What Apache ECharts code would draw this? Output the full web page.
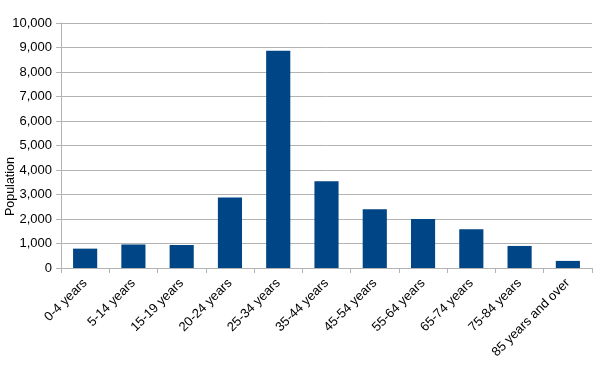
<!DOCTYPE html>
<html><head><meta charset="utf-8">
<script src="https://cdn.jsdelivr.net/npm/echarts@6/dist/echarts.min.js"></script>
<style>html,body{margin:0;padding:0;background:#fff}#c{width:604px;height:371px}</style>
</head><body><div id="c"></div>
<script>
const categories = ["0-4 years","5-14 years","15-19 years","20-24 years","25-34 years","35-44 years","45-54 years","55-64 years","65-74 years","75-84 years","85 years and over"];
const population = [790, 960, 940, 2880, 8870, 3540, 2400, 2000, 1580, 900, 290];
const yAxisTitle = "Population";

const chart = echarts.init(document.getElementById('c'), null, {renderer:'canvas'});
chart.setOption({
  animation: false,
  backgroundColor: '#fff',
  grid: {left: 61, right: 12, top: 23, bottom: 103, containLabel: false},
  xAxis: {
    type: 'category', data: categories, boundaryGap: true,
    axisLine: {lineStyle: {color: '#b3b3b3'}},
    axisTick: {show: true, length: 5, lineStyle: {color: '#b3b3b3'}},
    axisLabel: {rotate: 45, margin: 13, color: '#000', fontFamily: 'Liberation Sans', fontSize: 13, interval: 0}
  },
  yAxis: {
    type: 'value', min: 0, max: 10000, interval: 1000,
    axisLine: {show: true, lineStyle: {color: '#b3b3b3'}},
    axisTick: {show: true, length: 5, lineStyle: {color: '#b3b3b3'}},
    splitLine: {lineStyle: {color: '#b3b3b3'}},
    axisLabel: {color: '#000', fontFamily: 'Liberation Sans', fontSize: 13, margin: 9,
      formatter: v => v.toLocaleString('en-US')}
  },
  graphic: [{
    type: 'text', left: 4, top: 157, rotation: Math.PI/2,
    style: {text: yAxisTitle, fill: '#000', font: '12.5px "Liberation Sans"'}
  }],
  series: [{
    type: 'bar', data: population, barWidth: '50%',
    itemStyle: {color: '#004586'}
  }]
});
</script></body></html>
